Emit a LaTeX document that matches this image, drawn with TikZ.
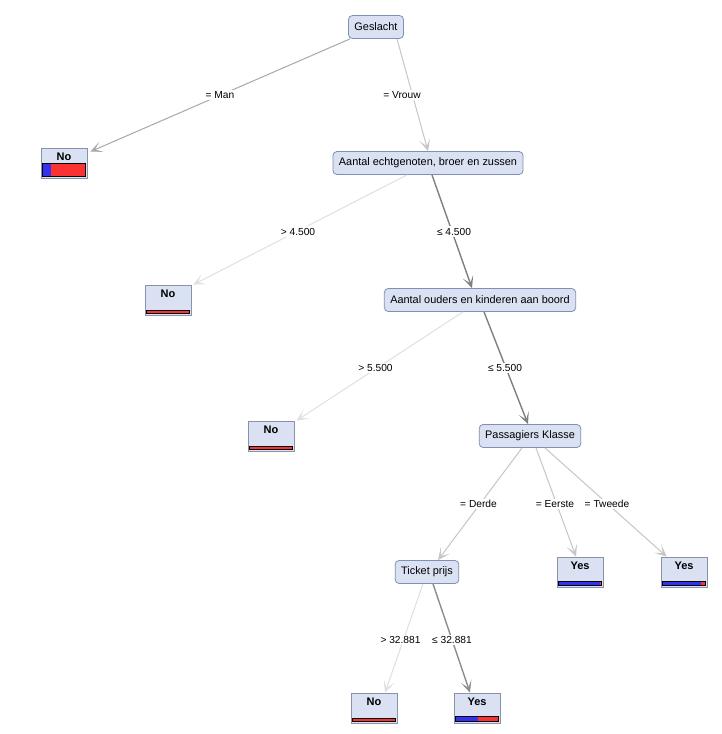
\documentclass[tikz,border=0pt]{standalone}
\usepackage{fontspec}
\setmainfont{Liberation Sans}
\usepackage{tikz}
\usetikzlibrary{arrows.meta, calc}
\definecolor{TreeFill}{RGB}{217, 225, 243}
\definecolor{TreeBorder}{RGB}{128, 144, 180}
\definecolor{LeafBorder}{RGB}{136, 146, 170}
\definecolor{BarBlue}{RGB}{50, 50, 240}
\definecolor{BarRed}{RGB}{250, 50, 50}
\definecolor{EdgeDark}{RGB}{128, 128, 128}
\definecolor{EdgeMid}{RGB}{168, 168, 168}
\definecolor{EdgeSoft}{RGB}{198, 198, 198}
\definecolor{EdgeFaint}{RGB}{224, 224, 224}

% class bar at the bottom of a leaf: node, bar height (px), blue share
\newcommand{\leafbar}[3]{%
  \coordinate (#1-bl) at ($(#1.south west)+(2,-2)$);
  \coordinate (#1-br) at ($(#1.south east)+(-2,-2)$);
  \fill[BarRed] (#1-bl) rectangle ($(#1-br)+(0,-#2)$);
  \fill[BarBlue] (#1-bl) rectangle ($(#1-bl)!#3!(#1-br)+(0,-#2)$);
  \draw[black, line width=0.8pt] (#1-bl) rectangle ($(#1-br)+(0,-#2)$);
}

\begin{document}
\begin{tikzpicture}[x=1pt,y=-1pt,
  splitnode/.style={draw=TreeBorder, fill=TreeFill, rounded corners=4pt, line width=0.8pt,
    minimum height=23pt, inner xsep=6pt, font=\fontsize{10.9}{12}\selectfont},
  leafnode/.style={draw=LeafBorder, fill=TreeFill, line width=0.8pt, minimum width=46pt,
    inner xsep=2pt, inner ysep=3pt, text height=9pt, text depth=15pt,
    font=\fontsize{11}{12}\selectfont\bfseries},
  elabel/.style={fill=white, inner sep=1.5pt, font=\fontsize{10.2}{12}\selectfont},
  edge/.style={line width=1pt, -{Stealth[length=12pt, width=11pt, inset=7pt]}},
  heavy/.style={edge, line width=1.4pt}]
  \path[use as bounding box] (0,0) rectangle (721,734);
  \fill[white] (0,0) rectangle (721,734);

  % split nodes
  \node[splitnode] (ges)    at (376,27)  {Geslacht};
  \node[splitnode] (aant1)  at (428,163) {Aantal echtgenoten, broer en zussen};
  \node[splitnode] (aant2)  at (480,300) {Aantal ouders en kinderen aan boord};
  \node[splitnode] (klasse) at (530,436) {Passagiers Klasse};
  \node[splitnode] (tic)    at (427,572) {Ticket prijs};

  % leaves
  \node[leafnode] (no1)  at (64,163)  {No};
  \node[leafnode] (no2)  at (168,300) {No};
  \node[leafnode] (no3)  at (271,436) {No};
  \node[leafnode] (yes1) at (580,572) {Yes};
  \node[leafnode] (yes2) at (684,572) {Yes};
  \node[leafnode] (no4)  at (374,708) {No};
  \node[leafnode] (yes3) at (477,708) {Yes};
  \leafbar{no1}{13}{0.19}
  \leafbar{no2}{3.5}{0}
  \leafbar{no3}{3.5}{0}
  \leafbar{yes1}{4}{0.96}
  \leafbar{yes2}{4}{0.89}
  \leafbar{no4}{3.5}{0}
  \leafbar{yes3}{5}{0.52}

  % connectors
  \draw[edge, EdgeMid]   ([shift={(-26,0)}]ges.south) -- ([shift={(3,4)}]no1.north east);
  \draw[edge, EdgeSoft]  ([shift={(21,0)}]ges.south) -- (aant1.north);
  \draw[edge, EdgeFaint] ([shift={(-21,0)}]aant1.south) -- ([shift={(2,0)}]no2.north east);
  \draw[heavy, EdgeDark] ([shift={(4,0)}]aant1.south) -- ([shift={(-8,0)}]aant2.north);
  \draw[edge, EdgeFaint] ([shift={(-17,0)}]aant2.south) -- ([shift={(2,0)}]no3.north east);
  \draw[heavy, EdgeDark] ([shift={(4,0)}]aant2.south) -- ([shift={(-2,0)}]klasse.north);
  \draw[edge, EdgeSoft]  ([shift={(-8,0)}]klasse.south) -- ([shift={(11,0)}]tic.north);
  \draw[edge, EdgeSoft]  ([shift={(6,0)}]klasse.south) -- ([shift={(-4,0)}]yes1.north);
  \draw[edge, EdgeSoft]  ([shift={(15,0)}]klasse.south) -- ([shift={(6,0)}]yes2.north west);
  \draw[edge, EdgeFaint] ([shift={(-4,0)}]tic.south) -- ([shift={(11,0)}]no4.north);
  \draw[heavy, EdgeDark!90!white] ([shift={(6,0)}]tic.south) -- ([shift={(-7,0)}]yes3.north);

  % edge labels, halfway between node centres
  \node[elabel] (lman)    at ($(ges)!0.5!(no1)$)      {= Man};
  \node[elabel] (lvrouw)  at ($(ges)!0.5!(aant1)$)    {= Vrouw};
  \node[elabel] (lsib1)   at ($(aant1)!0.5!(no2)$)    {> 4.500};
  \node[elabel] (lsib2)   at ($(aant1)!0.5!(aant2)$)  {≤ 4.500};
  \node[elabel] (lpar1)   at ($(aant2)!0.5!(no3)$)    {> 5.500};
  \node[elabel] (lpar2)   at ($(aant2)!0.5!(klasse)$) {≤ 5.500};
  \node[elabel] (lderde)  at ($(klasse)!0.5!(tic)$)   {= Derde};
  \node[elabel] (leerste) at ($(klasse)!0.5!(yes1)$)  {= Eerste};
  \node[elabel] (ltweede) at ($(klasse)!0.5!(yes2)$)  {= Tweede};
  \node[elabel] (lprijs1) at ($(tic)!0.5!(no4)$)      {> 32.881};
  \node[elabel] (lprijs2) at ($(tic)!0.5!(yes3)$)     {≤ 32.881};
\end{tikzpicture}
\end{document}
